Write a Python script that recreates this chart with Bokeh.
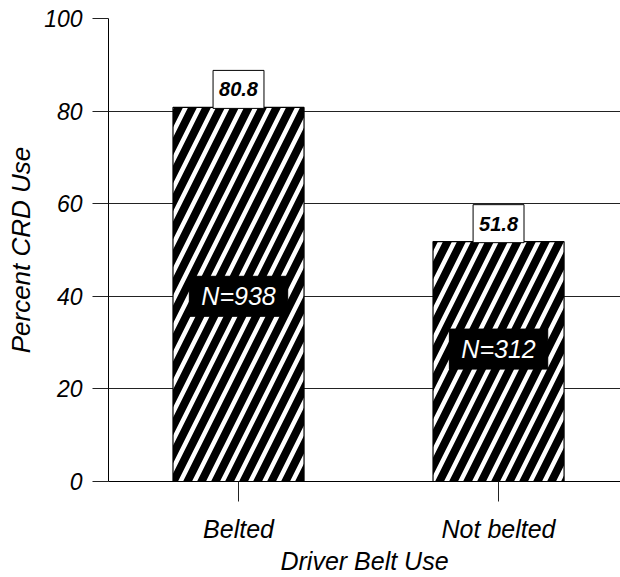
from bokeh.plotting import figure
from bokeh.models import Range1d, FixedTicker, Label, ColumnDataSource
from bokeh.embed import file_html
from bokeh.resources import INLINE

# ---- data ----
categories = ["Belted", "Not belted"]
percent_crd = [80.8, 51.8]
value_labels = ["80.8", "51.8"]
n_counts = [938, 312]
y_ticks = [0, 20, 40, 60, 80, 100]

# ---- layout constants (not data) ----
positions = [0.5, 1.5]
n_label_y = [40.0, 28.6]
FONT = "Liberation Sans"

p = figure(width=620, height=577, output_backend="svg", toolbar_location=None,
           x_range=Range1d(0, 1.969), y_range=Range1d(0, 100),
           min_border_left=108, min_border_right=0, min_border_top=18,
           min_border_bottom=96)
p.outline_line_color = None
p.background_fill_color = "white"
p.border_fill_color = "white"

src = ColumnDataSource(dict(x=positions, top=percent_crd, cat=categories))
p.vbar(x="x", top="top", bottom=0, width=0.504, source=src,
       fill_color="white", line_color="black", line_width=1.2,
       hatch_pattern="/", hatch_color="black", hatch_weight=8, hatch_scale=28)

# axes
p.xaxis.ticker = FixedTicker(ticks=positions)
p.xaxis.major_label_overrides = {pos: cat for pos, cat in zip(positions, categories)}
p.xaxis.major_tick_out = 20
p.xaxis.major_tick_in = 0
p.xaxis.minor_tick_out = 0
p.xaxis.minor_tick_in = 0
p.xaxis.major_label_standoff = 13
p.xaxis.axis_label = "Driver Belt Use"
p.xaxis.axis_label_standoff = 1

p.yaxis.ticker = FixedTicker(ticks=y_ticks)
p.yaxis.major_tick_out = 16
p.yaxis.major_tick_in = 0
p.yaxis.minor_tick_out = 0
p.yaxis.minor_tick_in = 0
p.yaxis.major_label_standoff = 10
p.yaxis.axis_label = "Percent CRD Use"
p.yaxis.axis_label_standoff = 5

for ax in (p.xaxis[0], p.yaxis[0]):
    ax.axis_line_color = "black"
    ax.major_tick_line_color = "#222222"
    ax.major_label_text_font = FONT
    ax.major_label_text_font_style = "italic"
    ax.major_label_text_color = "black"
    ax.axis_label_text_font = FONT
    ax.axis_label_text_font_style = "italic"
    ax.axis_label_text_color = "black"

p.xaxis.major_label_text_font_size = "25px"
p.xaxis.axis_label_text_font_size = "25px"
p.yaxis.major_label_text_font_size = "23px"
p.yaxis.axis_label_text_font_size = "26px"

p.xgrid.visible = False
p.ygrid.grid_line_color = "#222222"
p.ygrid.grid_line_width = 1

# value boxes on top of bars
for pos, val, txt in zip(positions, percent_crd, value_labels):
    p.add_layout(Label(x=pos, y=val, text=txt, text_align="center",
                       text_baseline="middle", y_offset=18, padding=(6, 12),
                       background_fill_color="white", border_line_color="black",
                       border_line_width=1,
                       text_font=FONT, text_font_style="bold italic",
                       text_font_size="20px", text_color="black"))

# N boxes
for pos, ny, n in zip(positions, n_label_y, n_counts):
    p.add_layout(Label(x=pos, y=ny, text=f"N={n}", text_align="center",
                       text_baseline="middle", padding=(12, 6),
                       background_fill_color="black", border_line_color="black",
                       text_font=FONT, text_font_style="italic",
                       text_font_size="25px", text_color="white"))

open("out.html", "w").write(file_html(p, INLINE))
